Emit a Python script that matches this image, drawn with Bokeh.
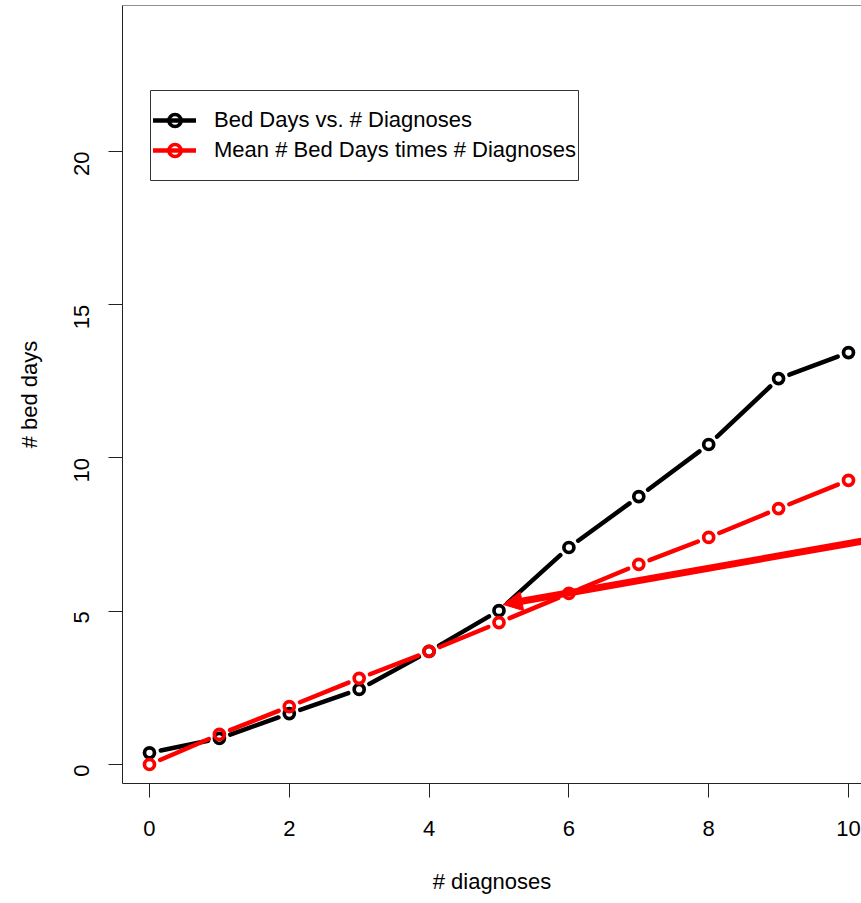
import math
from bokeh.plotting import figure
from bokeh.models import (Range1d, FixedTicker, Legend, LegendItem, BoxAnnotation,
                          Span, Arrow, NormalHead)
from bokeh.embed import file_html
from bokeh.resources import INLINE

# ---- data ----
diagnoses = [0, 1, 2, 3, 4, 5, 6, 7, 8, 9, 10]
bed_days = [0.38, 0.85, 1.66, 2.45, 3.69, 5.02, 7.08, 8.74, 10.44, 12.59, 13.44]
mean_times = [0.0, 0.98, 1.89, 2.81, 3.69, 4.63, 5.58, 6.53, 7.41, 8.35, 9.27]
x_ticks = [0, 2, 4, 6, 8, 10]
y_ticks = [0, 5, 10, 15, 20]
label_black = "Bed Days vs. # Diagnoses"
label_red = "Mean # Bed Days times # Diagnoses"
arrow_from = (10.6, 7.45)
arrow_to = (5.06, 5.22)

# ---- figure ----
X0, X1 = -0.386, 10.186
Y0, Y1 = -0.62, 24.763
W, H = 861, 903
BL, BB, BT, BR = 122, 120, 5, 0
FW, FH = W - BL - BR, H - BB - BT

p = figure(width=W, height=H, output_backend="svg", toolbar_location=None, title=None,
           x_range=Range1d(X0, X1), y_range=Range1d(Y0, Y1),
           min_border_left=BL, min_border_right=BR, min_border_top=BT, min_border_bottom=BB)
p.outline_line_color = None
p.grid.visible = False
p.background_fill_color = "white"

FONT = "Liberation Sans"
for ax in (p.xaxis[0], p.yaxis[0]):
    ax.axis_line_color = "#222222"
    ax.axis_line_width = 1
    ax.major_tick_line_color = "#222222"
    ax.major_tick_out = 14
    ax.major_tick_in = 0
    ax.minor_tick_line_color = None
    ax.major_label_text_font = FONT
    ax.major_label_text_font_size = "22px"
    ax.major_label_text_color = "black"
    ax.axis_label_text_font = FONT
    ax.axis_label_text_font_size = "22px"
    ax.axis_label_text_font_style = "normal"
    ax.axis_label_text_color = "black"

p.xaxis[0].ticker = FixedTicker(ticks=x_ticks)
p.yaxis[0].ticker = FixedTicker(ticks=y_ticks)
p.xaxis[0].bounds = (-0.4, 10.4)
p.xaxis[0].major_label_standoff = 23
p.xaxis[0].axis_label = "# diagnoses"
p.xaxis[0].axis_label_standoff = 30
p.yaxis[0].major_label_standoff = 27
p.yaxis[0].major_label_orientation = math.pi / 2
p.yaxis[0].axis_label = "# bed days"
p.yaxis[0].axis_label_standoff = 22

# top border of the box
p.add_layout(Span(location=Y1, dimension="width", line_color="#222222", line_width=1))

sx = FW / (X1 - X0)
sy = FH / (Y1 - Y0)
GAP = 11.5


def gapped(xs, ys):
    x0s, y0s, x1s, y1s = [], [], [], []
    for i in range(len(xs) - 1):
        dx, dy = (xs[i + 1] - xs[i]), (ys[i + 1] - ys[i])
        L = math.hypot(dx * sx, dy * sy)
        if L <= 2 * GAP:
            continue
        t = GAP / L
        x0s.append(xs[i] + t * dx); y0s.append(ys[i] + t * dy)
        x1s.append(xs[i + 1] - t * dx); y1s.append(ys[i + 1] - t * dy)
    return x0s, y0s, x1s, y1s


bx0, by0, bx1, by1 = gapped(diagnoses, bed_days)
seg_b = p.segment(bx0, by0, bx1, by1, line_color="black", line_width=4.5, line_cap="round")
pts_b = p.scatter(diagnoses, bed_days, marker="circle", size=10, fill_color=None,
                  line_color="black", line_width=3.7)

rx0, ry0, rx1, ry1 = gapped(diagnoses, mean_times)
seg_r = p.segment(rx0, ry0, rx1, ry1, line_color="#FF0000", line_width=4.5, line_cap="round")
pts_r = p.scatter(diagnoses, mean_times, marker="circle", size=10, fill_color=None,
                  line_color="#FF0000", line_width=3.7)

p.add_layout(Arrow(x_start=arrow_from[0], y_start=arrow_from[1], x_end=arrow_to[0], y_end=arrow_to[1],
                   line_color="#FF0000", line_width=7,
                   end=NormalHead(size=19, fill_color="#FF0000", line_color="#FF0000", line_width=1)))

# legend
legend = Legend(items=[LegendItem(label=label_black, renderers=[seg_b, pts_b]),
                       LegendItem(label=label_red, renderers=[seg_r, pts_r])],
                location=(31, 618), padding=0, margin=0, spacing=0,
                glyph_width=43, glyph_height=30, label_height=30, label_standoff=18,
                label_text_font=FONT, label_text_font_size="22px", label_text_color="black",
                border_line_color=None, background_fill_alpha=0)
p.add_layout(legend)
p.add_layout(BoxAnnotation(left=28, right=456, top=693, bottom=603,
                           left_units="screen", right_units="screen",
                           top_units="screen", bottom_units="screen",
                           fill_alpha=0, fill_color=None, line_color="#333333",
                           line_alpha=1.0, line_width=1))

open("out.html", "w").write(file_html(p, INLINE))
